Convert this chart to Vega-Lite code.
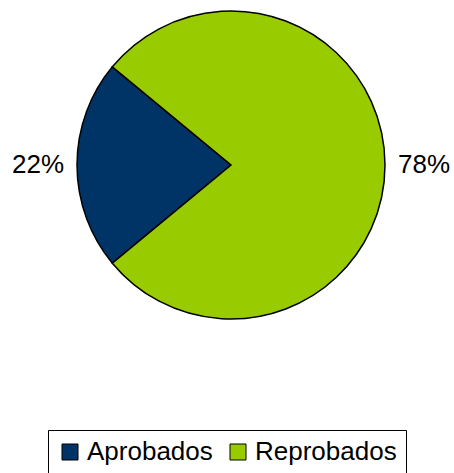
{
  "$schema": "https://vega.github.io/schema/vega-lite/v6.json",
  "width": 454,
  "height": 330,
  "padding": {"left": 4, "top": 0, "right": 0, "bottom": 143},
  "autosize": {"type": "none"},
  "background": "white",
  "data": {"values": [
    {"categoria": "Aprobados", "valor": 0.22},
    {"categoria": "Reprobados", "valor": 0.78}
  ]},
  "encoding": {
    "theta": {"field": "valor", "type": "quantitative", "stack": true, "scale": {"range": [4.0212, 10.3044]}},
    "color": {
      "field": "categoria", "type": "nominal",
      "scale": {"domain": ["Aprobados", "Reprobados"], "range": ["#003366", "#99cc00"]},
      "legend": {
        "title": null, "orient": "none", "legendX": 44, "legendY": 430, "direction": "horizontal",
        "strokeColor": "black", "fillColor": "white", "padding": 9,
        "labelFontSize": 26, "labelFont": "Liberation Sans", "labelColor": "black",
        "symbolType": "square", "symbolSize": 256, "symbolStrokeColor": "black", "symbolStrokeWidth": 1,
        "symbolOpacity": 1,
        "labelOffset": 4, "columnPadding": 12
      }
    }
  },
  "layer": [
    {"mark": {"type": "arc", "outerRadius": 154, "stroke": "black", "strokeWidth": 1.5}},
    {"mark": {"type": "text", "radius": 193, "fontSize": 26, "font": "Liberation Sans", "align": "center", "baseline": "middle", "color": "black"},
     "encoding": {"text": {"field": "valor", "type": "quantitative", "format": ".0%"}, "color": {"value": "black"}}}
  ],
  "config": {"view": {"stroke": null}}
}
